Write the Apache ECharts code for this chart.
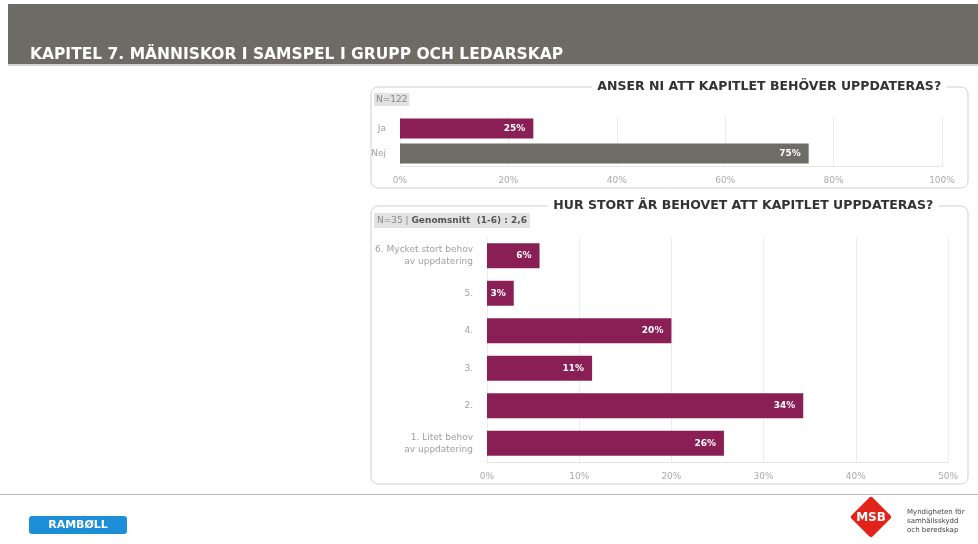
<!DOCTYPE html>
<html lang="sv">
<head>
<meta charset="UTF-8">
<title>Kapitel 7</title>
<script src="https://cdn.jsdelivr.net/npm/echarts@6/dist/echarts.min.js"></script>
<style>
  html, body { margin: 0; padding: 0; background: #fff; }
  #chart { width: 978px; height: 544px; }
</style>
</head>
<body>
<div id="chart"></div>
<script>
// Fråga 1: N=122
const q1Categories = ['Ja', 'Nej'];
const q1Values = [24.6, 75.4];
const q1Colors = ['#8a1f56', '#6e6c66'];

// Fråga 2: N=35
const q2Categories = [
  '6. Mycket stort behov\nav uppdatering',
  '5.',
  '4.',
  '3.',
  '2.',
  '1. Litet behov\nav uppdatering'
];
const q2Values = [5.7, 2.9, 20.0, 11.4, 34.3, 25.7];

const maroon = '#8a1f56';
const font = 'DejaVu Sans, Verdana, sans-serif';

const chart = echarts.init(document.getElementById('chart'));

function valueAxis(gridIndex, max) {
  return {
    type: 'value', gridIndex: gridIndex, min: 0, max: max, interval: max / 5,
    axisLine: { show: true, lineStyle: { color: '#e4e4e4' } },
    axisTick: { show: false },
    splitLine: { show: true, lineStyle: { color: '#ececec' } },
    axisLabel: { color: '#aaa', fontSize: 9, fontFamily: font, margin: 10,
      formatter: v => v + '%' }
  };
}

function catAxis(gridIndex, data) {
  return {
    type: 'category', gridIndex: gridIndex, data: data, inverse: true,
    axisLine: { show: false }, axisTick: { show: false },
    axisLabel: { color: '#a0a0a0', fontSize: 9, fontFamily: font, margin: 14, lineHeight: 12 }
  };
}

const valueLabel = {
  show: true, position: 'insideRight', color: '#fff', fontWeight: 'bold',
  fontSize: 9, fontFamily: font, distance: 8,
  formatter: p => Math.round(p.value) + '%'
};

chart.setOption({
  animation: false,
  grid: [
    { left: 400, right: 36, top: 116, height: 50 },
    { left: 487, right: 30, top: 237, height: 225 }
  ],
  xAxis: [valueAxis(0, 100), valueAxis(1, 50)],
  yAxis: [catAxis(0, q1Categories), catAxis(1, q2Categories)],
  series: [
    {
      type: 'bar', xAxisIndex: 0, yAxisIndex: 0, barWidth: 20,
      data: q1Values.map((v, i) => ({ value: v, itemStyle: { color: q1Colors[i] } })),
      label: valueLabel
    },
    {
      type: 'bar', xAxisIndex: 1, yAxisIndex: 1, barWidth: 25,
      itemStyle: { color: maroon },
      data: q2Values,
      label: valueLabel
    }
  ],
  graphic: [
    // header band
    { type: 'rect', shape: { x: 8, y: 4, width: 970, height: 60 }, style: { fill: '#6e6b66' }, silent: true },
    { type: 'rect', shape: { x: 8, y: 64, width: 970, height: 2 }, style: { fill: '#d4d4d4' }, silent: true },
    { type: 'text', x: 30, y: 47, style: { text: 'KAPITEL 7. MÄNNISKOR I SAMSPEL I GRUPP OCH LEDARSKAP',
      fill: '#fff', font: 'bold 15.5px ' + font } },

    // panel 1
    { type: 'rect', shape: { x: 371, y: 87, width: 597, height: 101, r: 7 },
      style: { fill: 'none', stroke: '#cfcfcf', lineWidth: 1 }, silent: true },
    { type: 'text', x: 592, y: 79, style: { text: ' ANSER NI ATT KAPITLET BEHÖVER UPPDATERAS? ',
      fill: '#333', font: 'bold 12.5px ' + font, backgroundColor: '#fff', padding: [1, 1] } },
    { type: 'text', x: 374, y: 93, style: { text: 'N=122', fill: '#888', font: '9px ' + font,
      backgroundColor: '#e2e2e2', padding: [2, 2] } },

    // panel 2
    { type: 'rect', shape: { x: 371, y: 206, width: 597, height: 278, r: 7 },
      style: { fill: 'none', stroke: '#cfcfcf', lineWidth: 1 }, silent: true },
    { type: 'text', x: 548, y: 198, style: { text: ' HUR STORT ÄR BEHOVET ATT KAPITLET UPPDATERAS? ',
      fill: '#333', font: 'bold 12.5px ' + font, backgroundColor: '#fff', padding: [1, 1] } },
    { type: 'text', x: 374, y: 213, style: {
      text: '{a|N=35 | }{b|Genomsnitt  (1-6) : 2,6}', backgroundColor: '#e2e2e2', padding: [3, 3],
      rich: { a: { fill: '#888', font: '9px ' + font }, b: { fill: '#555', font: 'bold 9px ' + font } } } },

    // footer
    { type: 'rect', shape: { x: 0, y: 494, width: 978, height: 1 }, style: { fill: '#bdbdbd' }, silent: true },
    { type: 'rect', shape: { x: 29, y: 516, width: 98, height: 18, r: 3 }, style: { fill: '#1c8fd8' }, silent: true },
    { type: 'text', x: 78, y: 525, style: { text: 'RAMBØLL', fill: '#fff', font: 'bold 11px ' + font,
      align: 'center', verticalAlign: 'middle' } },
    { type: 'rect', x: 871, y: 517, rotation: Math.PI / 4, shape: { x: -15, y: -15, width: 30, height: 30, r: 3 },
      style: { fill: '#e2231a' }, silent: true },
    { type: 'text', x: 871, y: 518, style: { text: 'MSB', fill: '#fff', font: 'bold 12px ' + font,
      align: 'center', verticalAlign: 'middle' } },
    { type: 'text', x: 907, y: 508, style: { text: 'Myndigheten för\nsamhällsskydd\noch beredskap',
      fill: '#444', font: '7px ' + font, lineHeight: 9 } }
  ]
});
</script>
</body>
</html>
